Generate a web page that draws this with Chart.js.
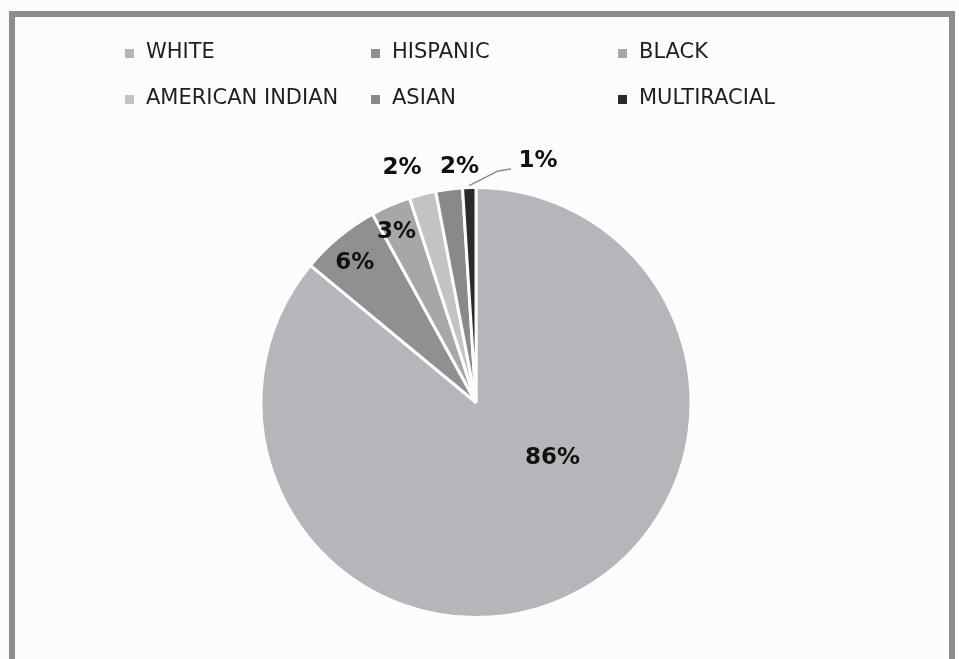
<!DOCTYPE html>
<html>
<head>
<meta charset="utf-8">
<script src="https://cdn.jsdelivr.net/npm/chart.js@4.4.1/dist/chart.umd.min.js"></script>
<style>
  html, body { margin: 0; padding: 0; background: #fcfcfd; }
  #wrap { position: relative; width: 959px; height: 659px; }
  #frame {
    position: absolute; left: 9px; top: 11px; width: 946px; height: 648px;
    box-sizing: border-box; border: 6px solid #8d8d8f; border-bottom: none;
    pointer-events: none;
  }
  canvas { position: absolute; left: 0; top: 0; }
</style>
</head>
<body>
<div id="wrap">
  <canvas id="chart" width="959" height="659"></canvas>
  <div id="frame"></div>
</div>
<script>
// values (percent of total)
const labels = ['WHITE', 'HISPANIC', 'BLACK', 'AMERICAN INDIAN', 'ASIAN', 'MULTIRACIAL'];
const values = [86, 6, 3, 2, 2, 1];
const colors = ['#b6b6ba', '#909093', '#a7a7aa', '#c3c3c5', '#89898c', '#2a2a2c'];

// where each percentage label sits: fraction of radius, angle (deg, clockwise from top)
const labelPos = [
  { r: 0.44, a: 126 },
  { r: 0.86, a: 319 },
  { r: 0.875, a: 335 },
  { r: 1.145, a: 342.5 },
  { r: 1.10, a: 356 },
  { r: 1.16, a: 14.4 }
];

// legend grid: columns and rows
const legendCols = [125, 371, 618];
const legendRows = [53, 99];

const pctLabels = {
  id: 'pctLabels',
  afterDatasetsDraw(chart) {
    const ctx = chart.ctx;
    const arcs = chart.getDatasetMeta(0).data;
    const total = values.reduce((a, b) => a + b, 0);
    ctx.save();
    ctx.font = 'bold 23px "DejaVu Sans"';
    ctx.fillStyle = '#111';
    ctx.textAlign = 'center';
    ctx.textBaseline = 'middle';
    arcs.forEach((arc, i) => {
      const p = labelPos[i];
      const rad = (p.a - 90) * Math.PI / 180;
      const x = arc.x + Math.cos(rad) * arc.outerRadius * p.r;
      const y = arc.y + Math.sin(rad) * arc.outerRadius * p.r;
      ctx.fillText(Math.round(values[i] / total * 100) + '%', x, y);
      if (i === arcs.length - 1) {
        // leader line for the thin slice
        const mid = (arc.startAngle + arc.endAngle) / 2;
        const sx = arc.x + Math.cos(mid) * (arc.outerRadius + 2);
        const sy = arc.y + Math.sin(mid) * (arc.outerRadius + 2);
        ctx.strokeStyle = '#8a8a8a';
        ctx.lineWidth = 1.5;
        ctx.beginPath();
        ctx.moveTo(sx, sy);
        ctx.lineTo(x - 40, y + 10);
        ctx.lineTo(x - 27, y + 8);
        ctx.stroke();
      }
    });
    ctx.restore();
  }
};

const gridLegend = {
  id: 'gridLegend',
  afterDraw(chart) {
    const ctx = chart.ctx;
    const ds = chart.data.datasets[0];
    ctx.save();
    ctx.font = '21px "DejaVu Sans"';
    ctx.textBaseline = 'middle';
    ctx.textAlign = 'left';
    chart.data.labels.forEach((lab, i) => {
      const x = legendCols[i % 3];
      const y = legendRows[Math.floor(i / 3)];
      ctx.fillStyle = ds.backgroundColor[i];
      ctx.fillRect(x, y - 4, 9, 9);
      ctx.fillStyle = '#1e1e1e';
      ctx.fillText(lab, x + 21, y);
    });
    ctx.restore();
  }
};

new Chart(document.getElementById('chart'), {
  type: 'pie',
  data: {
    labels: labels,
    datasets: [{
      data: values,
      backgroundColor: colors,
      borderColor: '#fcfcfd',
      borderWidth: 3
    }]
  },
  options: {
    responsive: false,
    animation: false,
    layout: { padding: { top: 186, bottom: 40, left: 150, right: 157 } },
    plugins: {
      legend: { display: false },
      tooltip: { enabled: false }
    }
  },
  plugins: [pctLabels, gridLegend]
});
</script>
</body>
</html>
